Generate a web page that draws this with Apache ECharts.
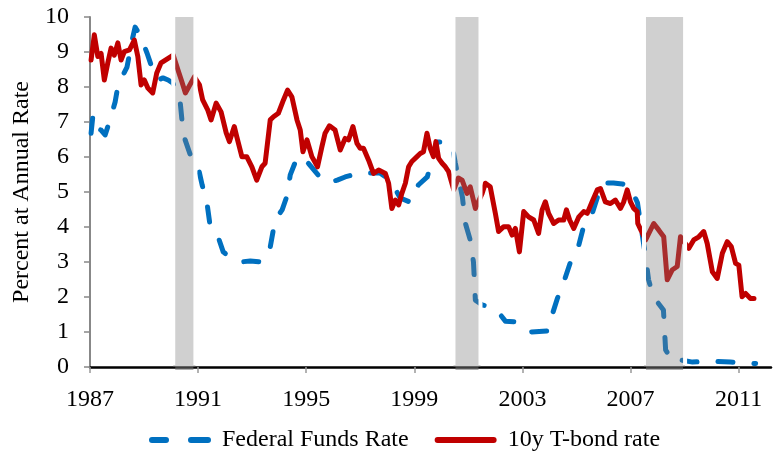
<!DOCTYPE html>
<html>
<head>
<meta charset="utf-8">
<script src="https://cdn.jsdelivr.net/npm/echarts@6/dist/echarts.min.js"></script>
<style>
  html, body { margin: 0; padding: 0; background: #fff; }
  #chart { width: 777px; height: 451px; }
</style>
</head>
<body>
<div id="chart"></div>
<script>
// tick labels on the time axis
const tickYears = [1987, 1991, 1995, 1999, 2003, 2007, 2011];

// recessions (start, end) in axis years
const recessionStart = [1990.08, 2000.45, 2007.50];
const recessionEnd = [1990.90, 2001.45, 2009.02];

// Federal Funds Rate
const fedYears = [1987.04,1987.11,1987.26,1987.41,1987.56,1987.74,1987.93,1988.04,1988.37,1988.56,
  1988.67,1988.85,1989.11,1989.30,1989.52,1989.70,1989.89,1990.07,1990.33,1990.41,
  1990.52,1990.78,1991.00,1991.15,1991.33,1991.44,1991.74,1991.93,1992.30,1992.56,
  1992.93,1993.37,1993.67,1993.85,1994.11,1994.30,1994.41,1994.67,1994.89,1995.07,
  1995.44,1995.78,1996.15,1996.44,1996.81,1997.19,1997.74,1998.11,1998.48,1998.85,
  1999.15,1999.48,1999.85,2000.15,2000.41,2000.52,2000.78,2000.89,2001.07,2001.19,
  2001.26,2001.52,2001.89,2002.19,2002.37,2002.74,2003.30,2003.93,2004.04,2004.30,
  2004.52,2004.78,2005.07,2005.26,2005.59,2005.78,2005.96,2006.37,2006.70,2007.00,
  2007.26,2007.56,2007.67,2007.85,2008.22,2008.30,2008.59,2008.85,2009.30,2009.96,
  2010.70,2011.63];
const fedRate = [6.68,7.2,6.83,6.77,6.63,7.06,7.57,8.06,8.57,9.34,
  9.71,9.49,8.97,8.54,8.2,8.26,8.2,8.11,7.63,7.0,
  6.49,5.91,5.72,5.2,4.68,4.06,3.72,3.29,3.06,3.0,
  3.03,3.0,3.43,4.2,4.49,4.91,5.49,6.0,5.97,5.83,
  5.49,5.26,5.34,5.43,5.51,5.54,5.54,5.34,4.83,4.71,
  5.2,5.43,6.43,6.43,6.29,5.82,4.86,4.11,3.63,3.0,
  1.91,1.77,1.71,1.49,1.31,1.29,1.0,1.03,1.34,1.97,
  2.4,3.0,3.43,4.0,4.4,4.86,5.26,5.26,5.23,5.14,
  4.69,3.14,2.49,2.0,1.63,0.49,0.14,0.2,0.14,0.17,
  0.14,0.1];

// 10y T-bond rate
const bondYears = [1987.04,1987.16,1987.29,1987.41,1987.53,1987.66,1987.78,1987.90,1988.03,1988.15,
  1988.27,1988.46,1988.64,1988.77,1988.89,1989.01,1989.14,1989.32,1989.47,1989.63,
  1989.79,1990.08,1990.25,1990.40,1990.53,1990.86,1991.05,1991.17,1991.36,1991.48,
  1991.67,1991.85,1992.04,1992.16,1992.34,1992.43,1992.62,1992.80,1992.99,1993.17,
  1993.36,1993.48,1993.67,1993.79,1993.97,1994.16,1994.31,1994.47,1994.66,1994.78,
  1994.88,1995.03,1995.21,1995.42,1995.58,1995.70,1995.86,1996.07,1996.26,1996.44,
  1996.57,1996.73,1996.88,1997.00,1997.12,1997.31,1997.49,1997.68,1997.74,1997.93,
  1998.05,1998.17,1998.30,1998.42,1998.54,1998.67,1998.79,1998.91,1999.10,1999.22,
  1999.34,1999.47,1999.59,1999.71,1999.80,1999.90,2000.03,2000.15,2000.27,2000.46,
  2000.63,2000.77,2000.95,2001.07,2001.26,2001.51,2001.63,2001.81,2002.00,2002.12,
  2002.31,2002.49,2002.62,2002.74,2002.89,2003.05,2003.23,2003.42,2003.60,2003.73,
  2003.85,2003.97,2004.16,2004.34,2004.53,2004.63,2004.75,2004.90,2005.09,2005.27,
  2005.40,2005.58,2005.77,2005.89,2006.07,2006.26,2006.44,2006.63,2006.75,2006.88,
  2007.00,2007.12,2007.25,2007.27,2007.56,2007.86,2008.05,2008.23,2008.36,2008.54,
  2008.73,2008.85,2009.16,2009.34,2009.53,2009.71,2009.84,2010.03,2010.21,2010.40,
  2010.58,2010.73,2010.89,2011.01,2011.13,2011.26,2011.44,2011.57];
const bondRate = [8.77,9.49,8.87,8.96,8.2,8.69,9.11,8.91,9.26,8.77,
  9.01,9.06,9.34,8.87,8.06,8.2,7.97,7.83,8.4,8.69,
  8.77,8.91,8.5,8.15,7.83,8.29,8.06,7.63,7.34,7.06,
  7.54,7.29,6.69,6.44,6.87,6.58,6.01,6.01,5.72,5.34,
  5.72,5.82,7.06,7.15,7.25,7.63,7.91,7.72,7.06,6.77,
  6.15,6.49,6.01,5.72,6.29,6.68,6.89,6.77,6.2,6.53,
  6.49,6.87,6.39,6.25,6.25,5.91,5.53,5.63,5.68,5.53,
  5.25,4.53,4.77,4.63,4.96,5.25,5.72,5.87,6.01,6.1,
  6.15,6.68,6.25,6.01,6.44,5.96,5.82,5.72,5.58,5.06,
  5.4,5.34,4.96,5.15,4.53,4.96,5.25,5.15,4.39,3.87,
  4.01,4.01,3.77,3.96,3.29,4.44,4.29,4.2,3.82,4.49,
  4.72,4.39,4.1,4.2,4.2,4.49,4.2,3.96,4.29,4.44,
  4.39,4.72,5.06,5.1,4.72,4.67,4.77,4.53,4.72,5.06,
  4.72,4.53,4.44,4.1,3.63,4.1,3.91,3.72,2.49,2.77,
  2.87,3.72,3.39,3.63,3.72,3.87,3.53,2.72,2.53,3.25,
  3.58,3.44,2.96,2.91,2.01,2.1,1.96,1.96];

const serif = '"Liberation Serif", "DejaVu Serif", serif';

// legend icons: two round dashes / one round bar
const dashIcon = 'path://M3,0H17A3,3 0 0 1 17,6H3A3,3 0 0 1 3,0Z M42,0H59A3,3 0 0 1 59,6H42A3,3 0 0 1 42,0Z';
const barIcon = 'path://M3,0H59A3,3 0 0 1 59,6H3A3,3 0 0 1 3,0Z';

const chart = echarts.init(document.getElementById('chart'));

const option = {
  animation: false,
  grid: { left: 90, right: 6, top: 17, bottom: 84, containLabel: false },
  legend: {
    data: [
      { name: 'Federal Funds Rate', icon: dashIcon, itemStyle: { color: '#0070C0' } },
      { name: '10y T-bond rate', icon: barIcon, itemStyle: { color: '#C00000' } },
    ],
    left: 144,
    top: 423,
    itemWidth: 62,
    itemHeight: 6,
    itemGap: 26,
    textStyle: { fontFamily: serif, fontSize: 24, color: '#000', padding: [0, 0, 0, 6] },
  },
  xAxis: {
    type: 'value',
    min: 1987,
    max: 2012.2,
    interval: 4,
    splitLine: { show: false },
    axisLine: { onZero: false, lineStyle: { color: '#000', width: 2.5 } },
    axisTick: { customValues: tickYears, length: 6, lineStyle: { color: '#999', width: 1.5 } },
    axisLabel: {
      customValues: tickYears,
      margin: 21,
      fontFamily: serif,
      fontSize: 24,
      color: '#000',
      formatter: v => String(v),
    },
  },
  yAxis: {
    type: 'value',
    min: 0,
    max: 10,
    interval: 1,
    name: 'Percent at Annual Rate',
    nameLocation: 'middle',
    nameGap: 55,
    nameTextStyle: { fontFamily: serif, fontSize: 24, color: '#000' },
    splitLine: { show: false },
    axisLine: { show: true, lineStyle: { color: '#888', width: 2 } },
    axisTick: { show: true, length: 6, lineStyle: { color: '#888', width: 1.5 } },
    axisLabel: { margin: 21, fontFamily: serif, fontSize: 24, color: '#000' },
  },
  series: [
    {
      name: 'Federal Funds Rate',
      type: 'line',
      data: fedYears.map((y, i) => [y, fedRate[i]]),
      symbol: 'none',
      color: '#0070C0',
      lineStyle: { color: '#0070C0', width: 5, type: [15, 21], cap: 'round', join: 'round' },
      z: 2,
    },
    {
      name: '10y T-bond rate',
      type: 'line',
      data: bondYears.map((y, i) => [y, bondRate[i]]),
      symbol: 'none',
      color: '#C00000',
      lineStyle: { color: '#C00000', width: 5, cap: 'round', join: 'round' },
      z: 3,
    },
    {
      name: 'recessions',
      type: 'custom',
      silent: true,
      z: 5,
      data: recessionStart.map((s, i) => [s, recessionEnd[i]]),
      encode: { x: [0, 1] },
      renderItem: (params, api) => {
        const top = api.coord([api.value(0), 10]);
        const bot = api.coord([api.value(1), 0]);
        const x0 = top[0], x1 = bot[0], y0 = top[1], y1 = bot[1];
        return {
          type: 'group',
          children: [
            { type: 'rect', shape: { x: x0, y: y0, width: x1 - x0, height: y1 - y0 },
              style: { fill: 'rgba(125,125,125,0.36)' } },
            { type: 'rect', shape: { x: x0 + 2, y: y1 - 1, width: x1 - x0 - 4, height: 4 },
              style: { fill: 'rgba(110,110,110,0.55)' } },
            { type: 'line', shape: { x1: x0, y1: y0, x2: x0, y2: y1 - 2 },
              style: { stroke: '#fff', lineWidth: 4 } },
            { type: 'line', shape: { x1: x1, y1: y0, x2: x1, y2: y1 - 2 },
              style: { stroke: '#fff', lineWidth: 4 } },
          ],
        };
      },
    },
  ],
};

chart.setOption(option);
</script>
</body>
</html>
